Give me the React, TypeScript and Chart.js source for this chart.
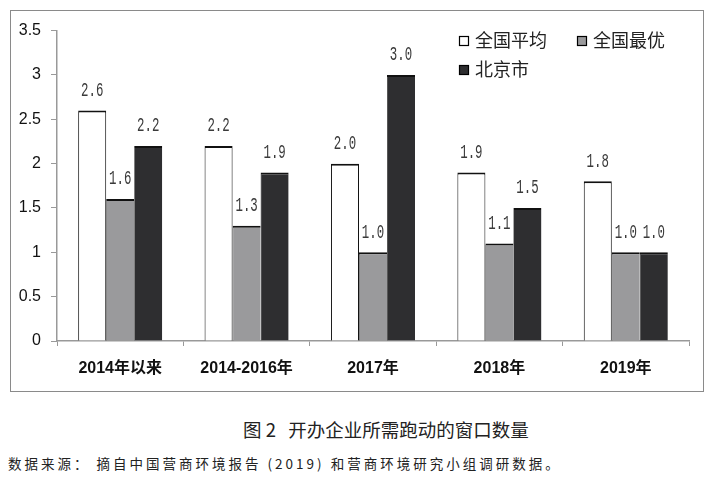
import React, { useEffect, useRef } from "react";
import { Chart, registerables } from "chart.js";

Chart.register(...registerables);

const categories = ["2014年以来", "2014-2016年", "2017年", "2018年", "2019年"];
const seriesNames = ["全国平均", "全国最优", "北京市"];
const avgValues = [2.6, 2.2, 2.0, 1.9, 1.8];
const bestValues = [1.6, 1.3, 1.0, 1.1, 1.0];
const beijingValues = [2.2, 1.9, 3.0, 1.5, 1.0];
const yTicks = [0, 0.5, 1, 1.5, 2, 2.5, 3, 3.5];

const fills = ["#ffffff", "#9a9a9c", "#2e2e30"];

const labelPlugin = {
  id: "valueLabels",
  afterDatasetsDraw(chart: any) {
    const ctx = chart.ctx;
    chart.data.datasets.forEach((ds: any, i: number) => {
      const meta = chart.getDatasetMeta(i);
      meta.data.forEach((bar: any, j: number) => {
        const v = ds.data[j].toFixed(1);
        ctx.save();
        ctx.translate(bar.x, bar.y - 20);
        ctx.scale(0.62, 1);
        ctx.font = "20px 'Liberation Mono', 'DejaVu Sans Mono', monospace";
        ctx.fillStyle = "#3a3a3a";
        ctx.textAlign = "center";
        ctx.textBaseline = "middle";
        ctx.fillText(v, 0, 0);
        ctx.restore();
      });
    });
  },
};

const legendPlugin = {
  id: "customLegend",
  afterDraw(chart: any) {
    const ctx = chart.ctx;
    ctx.save();
    const pos = [
      [448, 29],
      [566, 29],
      [448, 58],
    ];
    ctx.font = "18px 'Noto Sans CJK SC', sans-serif";
    ctx.textBaseline = "middle";
    ctx.textAlign = "left";
    seriesNames.forEach((name, i) => {
      const [x, y] = pos[i];
      ctx.fillStyle = fills[i];
      ctx.fillRect(x, y - 4, 9, 9);
      ctx.strokeStyle = "#000";
      ctx.lineWidth = 1.2;
      ctx.strokeRect(x + 0.5, y - 3.5, 9, 9);
      ctx.fillStyle = "#222";
      ctx.fillText(name, x + 16, y);
    });
    ctx.restore();
  },
};

export default function App() {
  const ref = useRef<HTMLCanvasElement>(null);
  useEffect(() => {
    if (!ref.current) return;
    const values = [avgValues, bestValues, beijingValues];
    const chart = new Chart(ref.current, {
      type: "bar",
      data: {
        labels: categories,
        datasets: seriesNames.map((name, i) => ({
          label: name,
          data: values[i],
          backgroundColor: fills[i],
          borderColor: "#111",
          borderWidth: i === 0 ? { top: 2, left: 1, right: 1, bottom: 0 } : { top: 2, left: 0.6, right: 0, bottom: 0 },
          borderSkipped: false,
          categoryPercentage: 0.665,
          barPercentage: 1.0,
        })),
      },
      options: {
        animation: false,
        responsive: false,
        maintainAspectRatio: false,
        layout: { padding: { left: 0, top: 18, right: 14, bottom: 0 } },
        plugins: {
          legend: { display: false },
          tooltip: { enabled: false },
        },
        scales: {
          x: {
            grid: {
              offset: true,
              drawOnChartArea: false,
              drawTicks: true,
              tickLength: 5,
              color: "#999",
            },
            border: { color: "#999", width: 1.5 },
            ticks: {
              color: "#111",
              padding: 13,
              font: { family: "'Liberation Sans', 'Noto Sans CJK SC', sans-serif", size: 16, weight: "bold" },
            },
            afterFit(scale: any) {
              scale.height = 50;
            },
          },
          y: {
            min: 0,
            max: 3.5,
            afterBuildTicks(scale: any) {
              scale.ticks = yTicks.map((v) => ({ value: v }));
            },
            grid: {
              drawOnChartArea: false,
              drawTicks: true,
              tickLength: 6,
              color: "#999",
            },
            border: { color: "#999", width: 1.5 },
            ticks: {
              color: "#111",
              padding: 10,
              font: { family: "'Liberation Sans', sans-serif", size: 16 },
              callback: (v: any) => String(v),
            },
            afterFit(scale: any) {
              scale.width = 46;
            },
          },
        },
      },
      plugins: [labelPlugin, legendPlugin],
    });
    return () => chart.destroy();
  }, []);

  return (
    <div style={{ position: "fixed", left: 0, top: 0, width: 714, height: 483, background: "#fff" }}>
      <div
        style={{
          position: "absolute",
          left: 10,
          top: 10,
          width: 692,
          height: 380,
          border: "1.5px solid #8a8a8a",
        }}
      >
        <canvas ref={ref} width={692} height={380} style={{ display: "block", width: 692, height: 380 }} />
      </div>
      <div
        style={{
          position: "absolute",
          left: 243,
          top: 417,
          fontFamily: "'Noto Sans CJK SC', sans-serif",
          fontSize: 18.5,
          color: "#222",
          whiteSpace: "pre",
          lineHeight: "24px",
        }}
      >
        {"图 2   开办企业所需跑动的窗口数量"}
      </div>
      <div
        style={{
          position: "absolute",
          left: 8,
          top: 454,
          fontFamily: "'Noto Sans CJK SC', sans-serif",
          fontSize: 13.5,
          color: "#222",
          whiteSpace: "pre",
          lineHeight: "18px",
          letterSpacing: 3,
        }}
      >
        {"数据来源： 摘自中国营商环境报告 (2019) 和营商环境研究小组调研数据。"}
      </div>
    </div>
  );
}
